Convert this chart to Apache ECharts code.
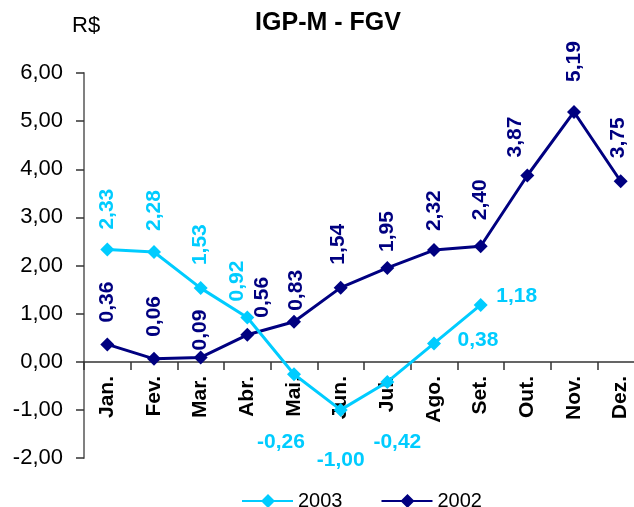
<!DOCTYPE html>
<html lang="pt">
<head>
<meta charset="utf-8">
<title>IGP-M - FGV</title>
<script src="https://cdn.jsdelivr.net/npm/echarts@6/dist/echarts.min.js"></script>
<style>
  html, body { margin: 0; padding: 0; background: #fff; }
  #chart { width: 634px; height: 507px; }
</style>
</head>
<body>
<div id="chart"></div>
<script type="text/javascript">
// dados
var meses = ['Jan.', 'Fev.', 'Mar.', 'Abr.', 'Mai.', 'Jun.', 'Jul.', 'Ago.', 'Set.', 'Out.', 'Nov.', 'Dez.'];
var yTicks = [-2, -1, 0, 1, 2, 3, 4, 5, 6];
var serie2003 = [2.33, 2.28, 1.53, 0.92, -0.26, -1.00, -0.42, 0.38, 1.18];
var serie2002 = [0.36, 0.06, 0.09, 0.56, 0.83, 1.54, 1.95, 2.32, 2.40, 3.87, 5.19, 3.75];

// ajustes dos rótulos (distância acima do ponto / deslocamento lateral)
var gap2002 = [15, 15, 0, 10, 4, 16, 9, 12, 19, 11, 23, 16];
var dx2002 = [0, 0, 0, 15, 2, -2, 0, 0, 0, -12, 0, -2];
var gap2003 = [13, 14, 16, 9];
var dx2003 = [0, 0, 0, -10];
// rótulos horizontais de 2003 (índice 4..8): deslocamento a partir do ponto
var off2003 = { 4: [-13, 68], 5: [0, 50], 6: [10, 60], 7: [44, -3], 8: [36, -9] };

var corCiano = '#00CCFF';
var corAzul = '#000080';

function fmt(v) {
  return v.toFixed(2).replace('.', ',');
}

// rótulo vertical: o offset fica no sistema já girado, por isso [0, dx]
function rotLabel(gap, dx) {
  return {
    show: true,
    position: 'top',
    distance: gap,
    rotate: 90,
    align: 'left',
    verticalAlign: 'middle',
    offset: [0, dx]
  };
}

var dados2002 = serie2002.map(function (v, i) {
  return { value: v, label: rotLabel(gap2002[i], dx2002[i]) };
});

var dados2003 = serie2003.map(function (v, i) {
  if (off2003[i]) {
    return {
      value: v,
      label: {
        show: true,
        position: 'inside',
        rotate: 0,
        align: 'center',
        verticalAlign: 'middle',
        offset: off2003[i]
      }
    };
  }
  return { value: v, label: rotLabel(gap2003[i], dx2003[i]) };
});

var iconeLegenda = 'path://M0,6 L20,6 L26,0 L32,6 L51,6 L51,8 L32,8 L26,14 L20,8 L0,8 Z';

var chart = echarts.init(document.getElementById('chart'));
var option = {
  animation: false,
  backgroundColor: '#fff',
  textStyle: { fontFamily: 'Liberation Sans, Arial, sans-serif' },
  title: [
    {
      text: 'IGP-M - FGV',
      left: 328,
      top: 11,
      padding: 0,
      textAlign: 'center',
      textStyle: { fontSize: 25, fontWeight: 'bold', color: '#000' }
    },
    {
      text: 'R$',
      left: 72,
      top: 15,
      padding: 0,
      textStyle: { fontSize: 22, fontWeight: 'normal', color: '#000' }
    }
  ],
  legend: {
    left: 242,
    top: 491,
    padding: 0,
    itemWidth: 51,
    itemHeight: 14,
    itemGap: 39,
    textStyle: { fontSize: 20, color: '#000' },
    data: [
      { name: '2003', icon: iconeLegenda, itemStyle: { color: corCiano } },
      { name: '2002', icon: iconeLegenda, itemStyle: { color: corAzul } }
    ]
  },
  grid: {
    left: 84,
    top: 73,
    width: 560,
    bottom: 49,
    outerBoundsMode: 'none'
  },
  xAxis: {
    type: 'category',
    data: meses,
    boundaryGap: true,
    position: 'bottom',
    offset: -96,
    axisLine: { onZero: false, lineStyle: { color: '#333', width: 1.5 } },
    axisTick: { show: true, length: 8, interval: 0, lineStyle: { color: '#333', width: 1.5 } },
    axisLabel: {
      interval: 0,
      rotate: 90,
      margin: 14,
      fontSize: 21,
      fontWeight: 'bold',
      color: '#000'
    },
    splitLine: { show: false }
  },
  yAxis: {
    type: 'value',
    min: yTicks[0],
    max: yTicks[yTicks.length - 1],
    interval: 1,
    axisLine: { show: true, lineStyle: { color: '#808080', width: 2 } },
    axisTick: { show: true, length: 8, lineStyle: { color: '#333', width: 1.5 } },
    axisLabel: {
      fontSize: 22,
      color: '#000',
      margin: 21,
      formatter: function (v) { return fmt(v); }
    },
    splitLine: { show: false }
  },
  series: [
    {
      name: '2003',
      type: 'line',
      data: dados2003,
      symbol: 'diamond',
      symbolSize: 14,
      lineStyle: { color: corCiano, width: 3 },
      itemStyle: { color: corCiano },
      label: {
        fontSize: 21,
        fontWeight: 'bold',
        color: corCiano,
        formatter: function (p) { return fmt(p.value); }
      },
      z: 3
    },
    {
      name: '2002',
      type: 'line',
      data: dados2002,
      symbol: 'diamond',
      symbolSize: 14,
      lineStyle: { color: corAzul, width: 3 },
      itemStyle: { color: corAzul },
      label: {
        fontSize: 21,
        fontWeight: 'bold',
        color: corAzul,
        formatter: function (p) { return fmt(p.value); }
      },
      z: 2
    }
  ]
};
chart.setOption(option);
</script>
</body>
</html>
